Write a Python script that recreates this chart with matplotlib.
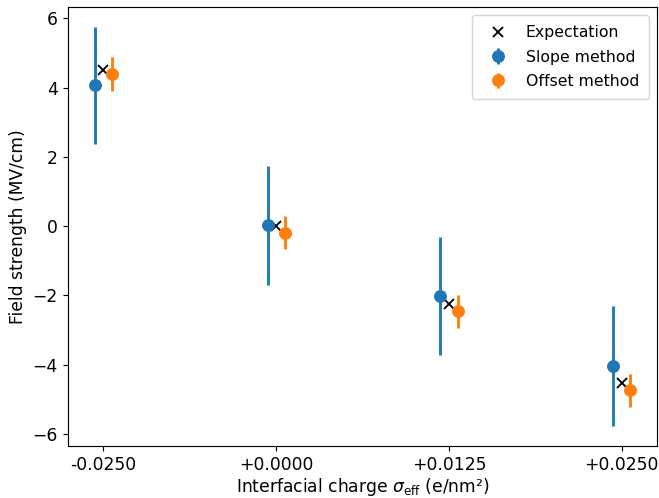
import numpy as np
import matplotlib
matplotlib.use("Agg")
import matplotlib.pyplot as plt

plt.rcParams["font.size"] = 12

charges = ["-0.0250", "+0.0000", "+0.0125", "+0.0250"]
expectation = [4.52, 0.0, -2.26, -4.52]
slope_vals = [4.06, 0.02, -2.03, -4.05]
slope_err = [1.69, 1.71, 1.70, 1.73]
offset_vals = [4.39, -0.19, -2.46, -4.74]
offset_err = [0.48, 0.47, 0.47, 0.47]

x = np.arange(len(charges))
shift = 0.05

fig, ax = plt.subplots(figsize=(6.4, 4.835), dpi=103)
ax.errorbar(x - shift, slope_vals, yerr=slope_err, fmt="o", markersize=8,
            elinewidth=2, label="Slope method")
ax.errorbar(x + shift, offset_vals, yerr=offset_err, fmt="o", markersize=8,
            elinewidth=2, label="Offset method")
ax.plot(x, expectation, "x", color="black", markersize=7, markeredgewidth=1.3,
        label="Expectation")

ax.set_xticks(x)
ax.set_xticklabels(charges)
ax.set_yticks(np.arange(-6, 7, 2))
ax.set_xlabel(r"Interfacial charge $\sigma_\mathrm{eff}$ (e/nm²)", labelpad=1)
ax.set_ylabel("Field strength (MV/cm)")
ax.legend(loc="upper right", fontsize=11, labelspacing=0.6, borderpad=0.65)
fig.subplots_adjust(left=0.103, right=0.997, top=0.986, bottom=0.104)
fig.savefig("out.png", dpi=103)
